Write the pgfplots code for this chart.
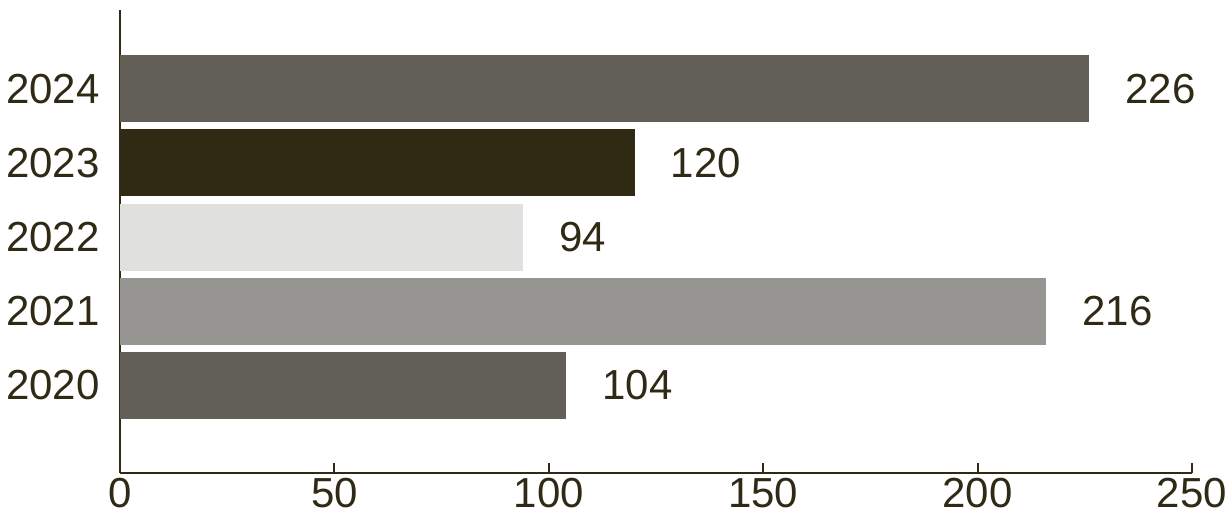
\documentclass[border=0pt]{standalone}
\usepackage{fontspec}
\setmainfont{Liberation Sans}
\usepackage{pgfplots}
\pgfplotsset{compat=1.18}
\definecolor{txt}{HTML}{2F2A16}
\definecolor{cA}{HTML}{625F57}
\definecolor{cB}{HTML}{302A14}
\definecolor{cC}{HTML}{E0E0DE}
\definecolor{cD}{HTML}{969592}
\begin{document}
\fontsize{21pt}{25pt}\selectfont
\begin{tikzpicture}
\useasboundingbox (-60pt,-22pt) rectangle (556pt,236.5pt);
\begin{axis}[
  at={(0,0)}, anchor=south west,
  scale only axis, width=536pt, height=231.5pt,
  xbar, bar width=33.5pt, bar shift=0pt,
  xmin=0, xmax=250, ymin=-1.18, ymax=5.06,
  axis x line=bottom, axis y line=left,
  axis line style={txt, line width=1.2pt, -},
  xtick={0,50,100,150,200,250},
  ytick={0,1,2,3,4},
  yticklabels={2020,2021,2022,2023,2024},
  major tick length=5pt,
  xtick style={txt, line width=1pt},
  ytick style={draw=none},
  tick align=inside,
  ticklabel style={font=\fontsize{21pt}{25pt}\selectfont, text=txt},
  xticklabel style={yshift=-1.5pt, inner sep=1pt},
  yticklabel style={xshift=-3pt},
  /pgf/number format/assume math mode=true,
  nodes near coords,
  every node near coord/.append style={font=\fontsize{21pt}{25pt}\selectfont, text=txt, anchor=west, xshift=11pt},
  clip=false,
]
\addplot[fill=cA, draw=none] coordinates {(104,0)};
\addplot[fill=cD, draw=none] coordinates {(216,1)};
\addplot[fill=cC, draw=none] coordinates {(94,2)};
\addplot[fill=cB, draw=none] coordinates {(120,3)};
\addplot[fill=cA, draw=none] coordinates {(226,4)};
\end{axis}
\end{tikzpicture}
\end{document}
